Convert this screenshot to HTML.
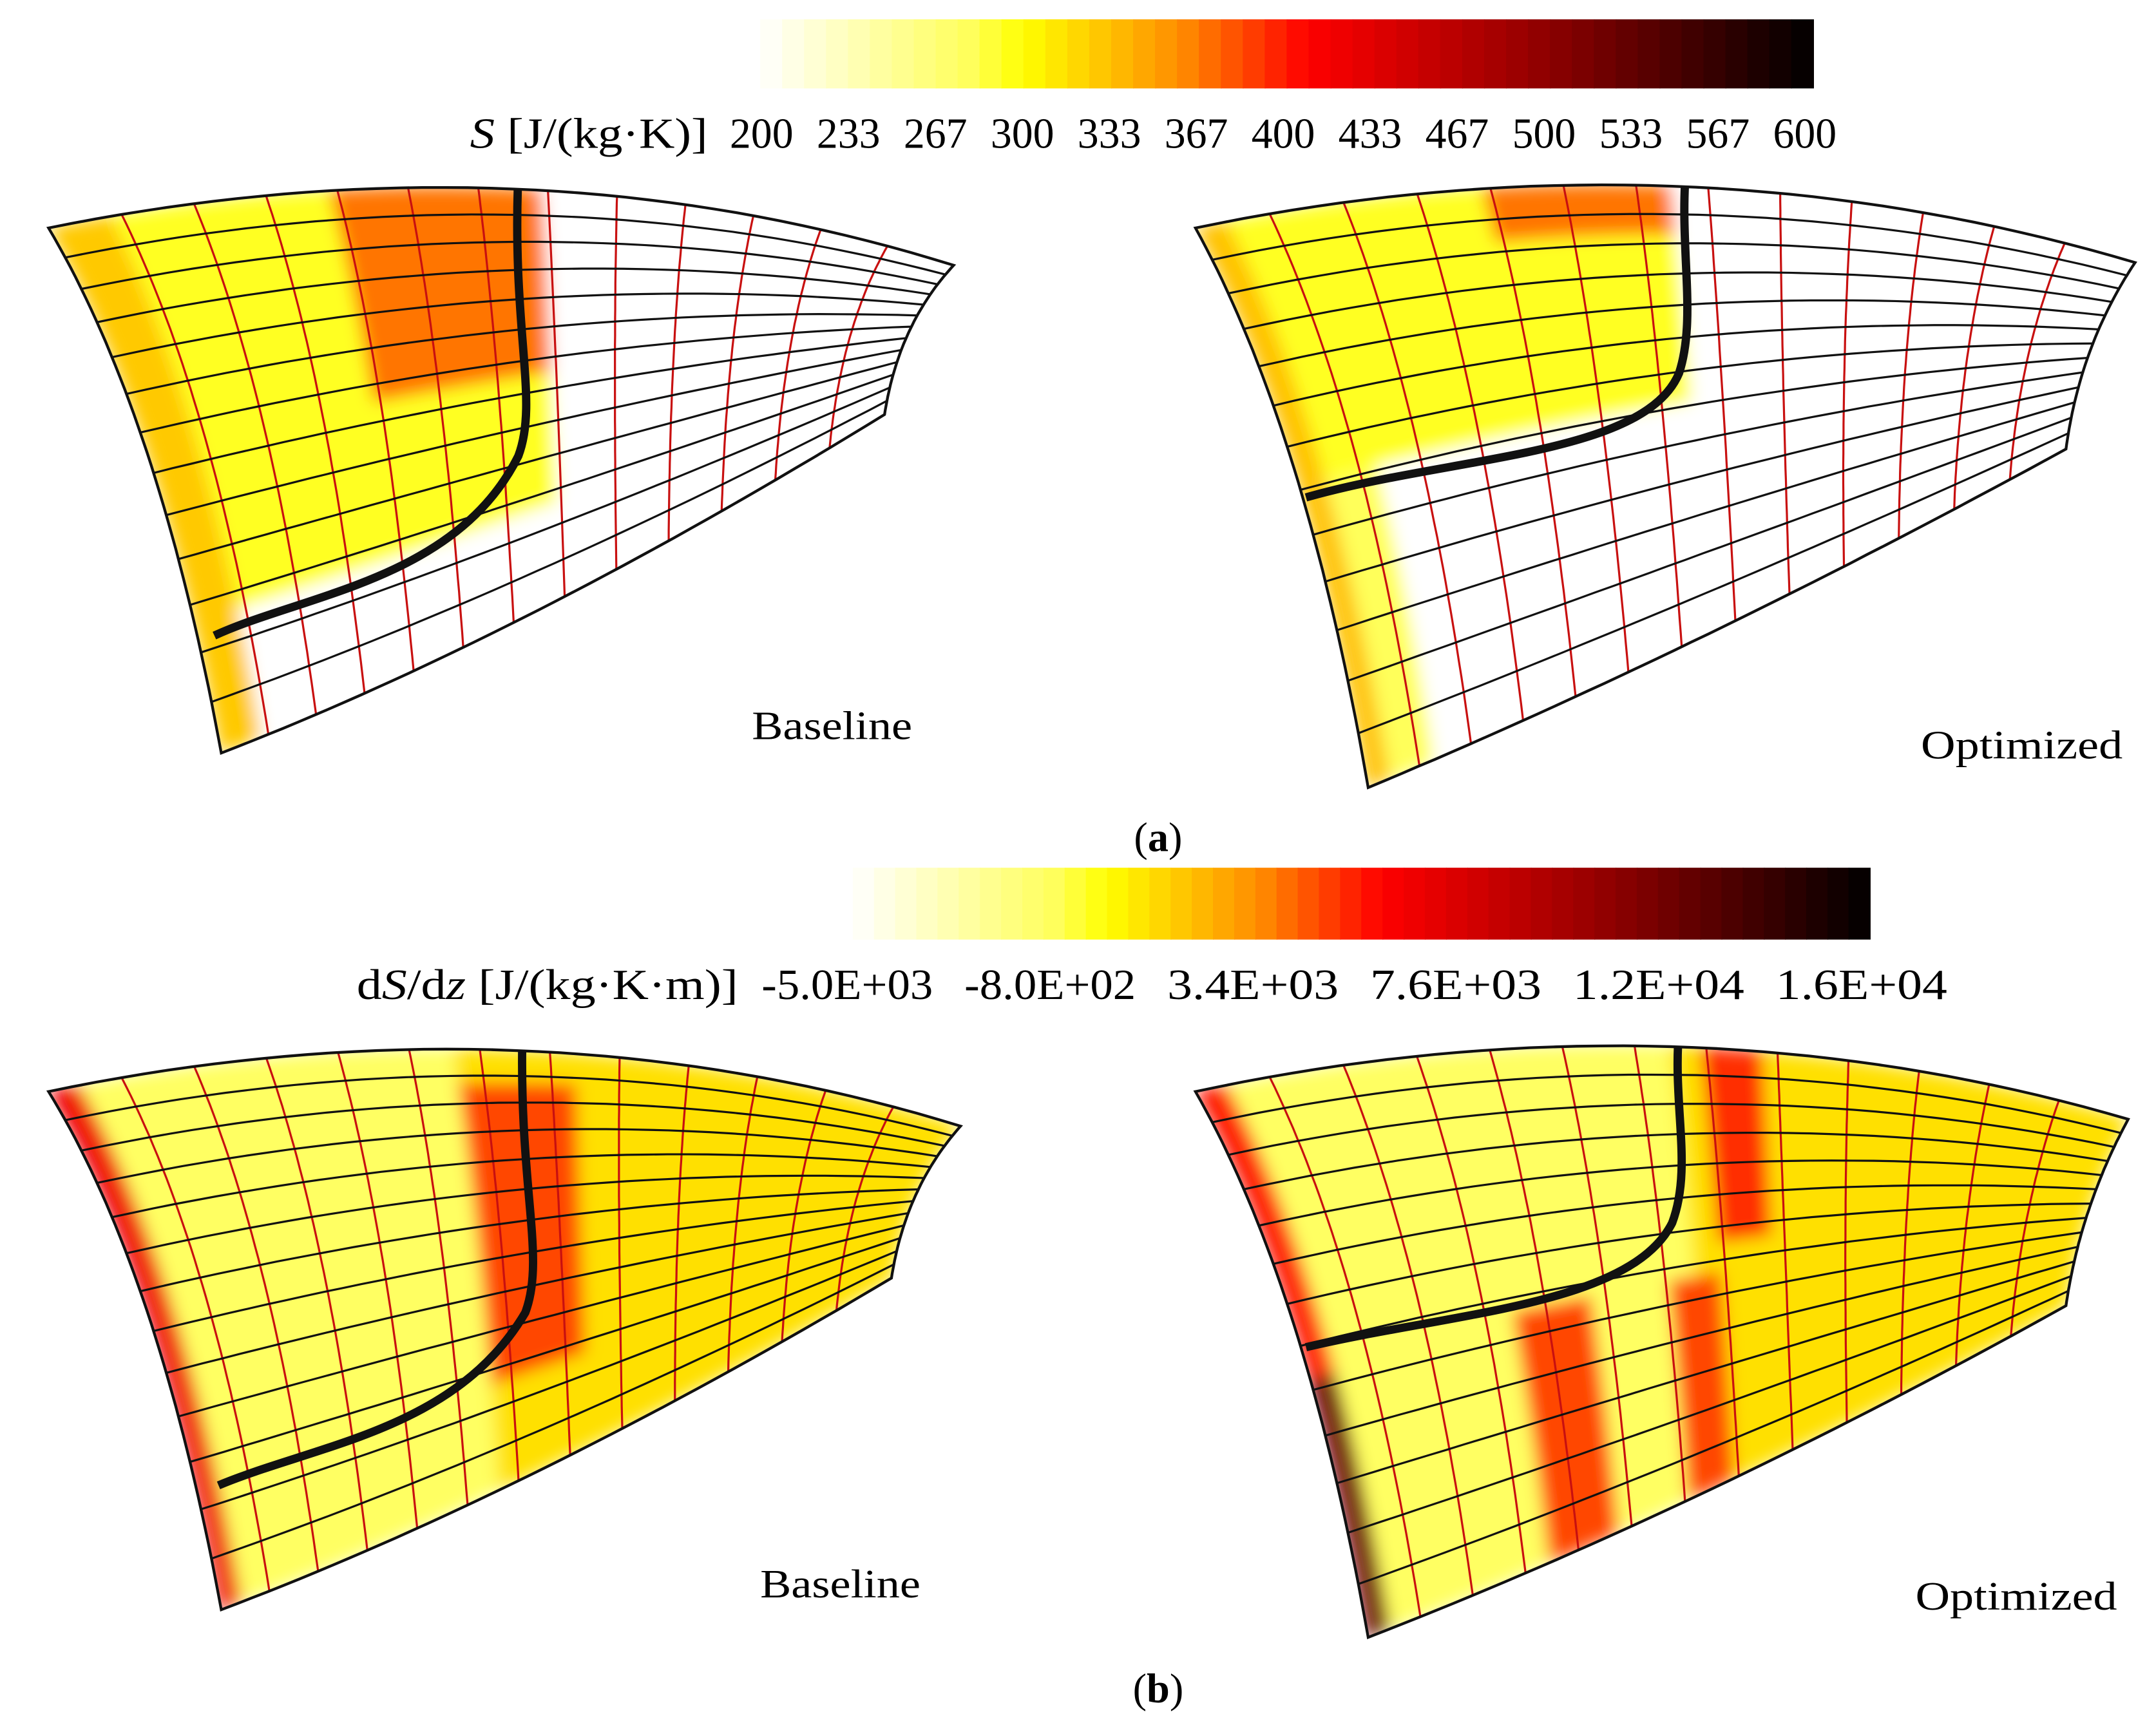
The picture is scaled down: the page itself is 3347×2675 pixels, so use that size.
<!DOCTYPE html>
<html><head><meta charset="utf-8">
<style>html,body{margin:0;padding:0;background:#fff}svg{display:block}</style></head>
<body>
<svg id="fig" xmlns="http://www.w3.org/2000/svg" width="3347" height="2675" viewBox="0 0 1560 1247" font-family="Liberation Serif, serif">
<defs>
<filter id="bl" x="-5%" y="-5%" width="110%" height="110%"><feGaussianBlur stdDeviation="6"/></filter>
</defs>
<g id="cb-a"></g>
<g id="cb-b"></g>
<g id="panels"></g>
<text x="544" y="535" font-size="29" textLength="116" lengthAdjust="spacingAndGlyphs">Baseline</text>
<text x="1390" y="549" font-size="29" textLength="146" lengthAdjust="spacingAndGlyphs">Optimized</text>
<text x="550" y="1156" font-size="29" textLength="116" lengthAdjust="spacingAndGlyphs">Baseline</text>
<text x="1386" y="1165" font-size="29" textLength="146" lengthAdjust="spacingAndGlyphs">Optimized</text>
<text x="838" y="616" font-size="30" text-anchor="middle">(<tspan font-weight="bold">a</tspan>)</text>
<text x="838" y="1232" font-size="30" text-anchor="middle">(<tspan font-weight="bold">b</tspan>)</text>
</svg>
<script>
const ticksA=["200","233","267","300","333","367","400","433","467","500","533","567","600"];
const ticksB=["-5.0E+03","-8.0E+02","3.4E+03","7.6E+03","1.2E+04","1.6E+04"];
const NS="http://www.w3.org/2000/svg";
const svg=document.getElementById('fig');
function mk(t,a,p){const e=document.createElementNS(NS,t);for(const k in a)e.setAttribute(k,a[k]);(p||svg).appendChild(e);return e;}
const stops=[[0,[255,255,255]],[0.2,[255,255,90]],[0.25,[255,255,0]],[0.4,[255,140,0]],[0.52,[255,0,0]],[0.75,[140,0,0]],[1,[0,0,0]]];
function cmap(t){t=Math.max(0,Math.min(1,t));for(let i=1;i<stops.length;i++){if(t<=stops[i][0]){const a=stops[i-1],b=stops[i],f=(t-a[0])/(b[0]-a[0]);return 'rgb('+a[1].map((c,j)=>Math.round(c+(b[1][j]-c)*f)).join(',')+')';}}return 'rgb(0,0,0)';}
function colorbar(g,x0,x1,y0,y1){const n=48,w=(x1-x0)/n;for(let i=0;i<n;i++){const r=mk('rect',{x:x0+i*w,y:y0,width:w+0.6,height:y1-y0,fill:cmap((i+0.5)/n)},g);}}
const ga=document.getElementById('cb-a');colorbar(ga,550,1312,14,64);
const la=mk('text',{x:340,y:107,'font-size':31},ga);la.innerHTML='<tspan font-style="italic">S</tspan> [J/(kg·K)]';la.setAttribute('textLength','172');la.setAttribute('lengthAdjust','spacingAndGlyphs');
ticksA.forEach((t,i)=>{const e=mk('text',{x:551+i*(1306-551)/(ticksA.length-1),y:107,'font-size':31,'text-anchor':'middle',textLength:46,lengthAdjust:'spacingAndGlyphs'},ga);e.textContent=t;});
const gb=document.getElementById('cb-b');colorbar(gb,617,1353,628,680);
const lb=mk('text',{x:258,y:723,'font-size':31},gb);lb.innerHTML='d<tspan font-style="italic">S</tspan>/d<tspan font-style="italic">z</tspan> [J/(kg·K·m)]';lb.setAttribute('textLength','276');lb.setAttribute('lengthAdjust','spacingAndGlyphs');
ticksB.forEach((t,i)=>{const e=mk('text',{x:613+i*(1347-613)/(ticksB.length-1),y:723,'font-size':31,'text-anchor':'middle',textLength:124,lengthAdjust:'spacingAndGlyphs'},gb);e.textContent=t;});

function q(a,c,b,t){return[(1-t)*(1-t)*a[0]+2*t*(1-t)*c[0]+t*t*b[0],(1-t)*(1-t)*a[1]+2*t*(1-t)*c[1]+t*t*b[1]];}
function patch(P){return (u,v)=>{const T=q(P.TL,P.tc,P.TR,u),B=q(P.BL,P.bc,P.BR,u),L=q(P.TL,P.lc,P.BL,v),R=q(P.TR,P.rc,P.BR,v);
return[0,1].map(k=>(1-v)*T[k]+v*B[k]+(1-u)*L[k]+u*R[k]-((1-u)*(1-v)*P.TL[k]+u*(1-v)*P.TR[k]+(1-u)*v*P.BL[k]+u*v*P.BR[k]));};}
const fields={
 aBase:(u,v)=>{if(u<0.06)return 0.32;if(u<0.55&&v<0.8){if(u>0.3&&v<0.5)return 0.42;return 0.23;}return 0;},
 aOpt:(u,v)=>{if(u<0.05)return 0.33;if(u<0.5&&v<0.55){if(u>0.3&&v<0.15)return 0.42;return 0.23;}if(u<0.1)return 0.2;return 0;},
 bBase:(u,v)=>{if(u<0.04)return 0.55;if(u>0.42&&u<0.56&&v>0.1&&v<0.8)return 0.46;if(u<0.45)return 0.19;return 0.29;},
 bOpt:(u,v)=>{if(u<0.05)return v>0.6?0.8:0.5;if(v>0.55&&((u>0.28&&u<0.36)||(u>0.45&&u<0.55)))return 0.46;if(u>0.52&&u<0.6&&v<0.5)return 0.48;if(u<0.5)return 0.19;return 0.29;}
};
const panels=[
 {name:'panel-baseline-entropy',P:{TL:[35,165],TR:[690,192],BL:[160,545],BR:[640,300],tc:[380,95],bc:[380,460],lc:[115,300],rc:[650,235]},f:'aBase',thick:'M155,460 C220,430 330,420 375,330 C390,290 370,240 375,125'},
 {name:'panel-optimized-entropy',P:{TL:[865,165],TR:[1545,190],BL:[990,570],BR:[1495,325],tc:[1215,92],bc:[1230,470],lc:[945,310],rc:[1505,250]},f:'aOpt',thick:'M945,360 C1050,330 1190,330 1215,270 C1228,230 1215,180 1220,122'},
 {name:'panel-baseline-gradient',P:{TL:[35,790],TR:[695,815],BL:[160,1165],BR:[645,925],tc:[380,718],bc:[385,1080],lc:[115,920],rc:[655,860]},f:'bBase',thick:'M158,1075 C230,1045 330,1035 380,950 C395,910 375,860 378,745'},
 {name:'panel-optimized-gradient',P:{TL:[865,790],TR:[1540,810],BL:[990,1185],BR:[1495,945],tc:[1215,715],bc:[1235,1090],lc:[945,930],rc:[1505,875]},f:'bOpt',thick:'M945,975 C1050,950 1180,945 1210,885 C1225,845 1210,800 1215,745'}
];
const pg=document.getElementById('panels');
panels.forEach((p,pi)=>{
 const g=mk('g',{},pg);
 const F=patch(p.P),f=fields[p.f],N=40;
 let d='';const pts=[];for(let i=0;i<=N;i++)pts.push(F(i/N,0));for(let i=0;i<=N;i++)pts.push(F(1,i/N));for(let i=N;i>=0;i--)pts.push(F(i/N,1));for(let i=N;i>=0;i--)pts.push(F(0,i/N));
 d='M'+pts.map(p=>p[0].toFixed(1)+','+p[1].toFixed(1)).join('L')+'Z';
 const cp=mk('clipPath',{id:'cp'+pi},g);mk('path',{d:d},cp);
 const cg=mk('g',{'clip-path':'url(#cp'+pi+')'},g);
 const fg=mk('g',{filter:'url(#bl)'},cg);
 const M=30;for(let i=0;i<M;i++)for(let j=0;j<M;j++){const a=F(i/M,j/M),b=F((i+1)/M,j/M),c=F((i+1)/M,(j+1)/M),e=F(i/M,(j+1)/M);
  mk('path',{d:`M${a}L${b}L${c}L${e}Z`,fill:cmap(f((i+0.5)/M,(j+0.5)/M)),stroke:cmap(f((i+0.5)/M,(j+0.5)/M)),'stroke-width':1.5},fg);}
 const K=13;
 for(let k=1;k<K;k++){let s='';for(let i=0;i<=N;i++){const q2=F(k/K,i/N);s+=(i?'L':'M')+q2[0].toFixed(1)+','+q2[1].toFixed(1);}
  const l=mk('path',{d:s,fill:'none',stroke:'#c81010','stroke-width':1.5},cg);}
 for(let k=1;k<K;k++){let s='';for(let i=0;i<=N;i++){const q2=F(i/N,k/K);s+=(i?'L':'M')+q2[0].toFixed(1)+','+q2[1].toFixed(1);}
  const l=mk('path',{d:s,fill:'none',stroke:'#111','stroke-width':1.5},cg);}
 const t=mk('path',{d:p.thick,fill:'none',stroke:'#111','stroke-width':6},cg);
 const o=mk('path',{d:d,fill:'none',stroke:'#111','stroke-width':2},g);
});
</script>
</body></html>
